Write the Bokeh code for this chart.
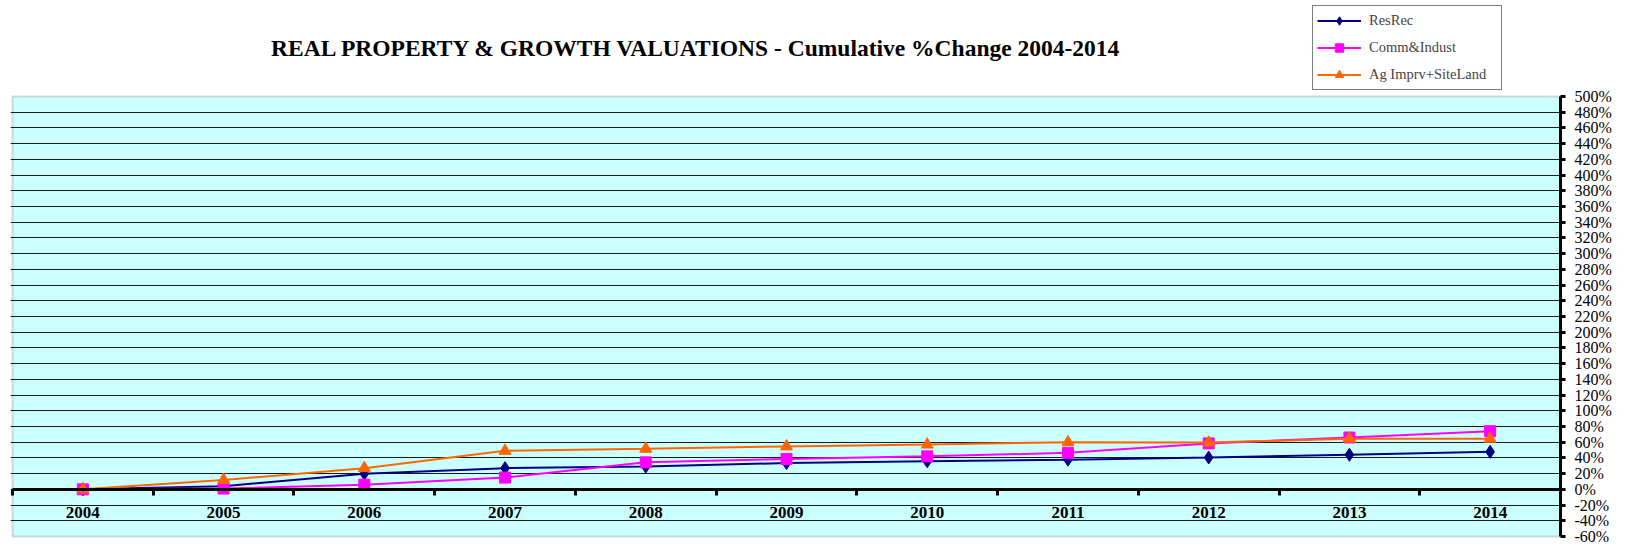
from bokeh.plotting import figure
from bokeh.models import (Range1d, LinearAxis, FixedTicker, PrintfTickFormatter,
                          Label, Legend, LegendItem, BoxAnnotation)
from bokeh.embed import file_html
from bokeh.resources import INLINE

# ---- data ----
years = [2004, 2005, 2006, 2007, 2008, 2009, 2010, 2011, 2012, 2013, 2014]
resrec = [0, 4, 20, 27, 29, 33.5, 35.7, 37.8, 40.5, 44, 47.8]
comm_indust = [0, 1, 6, 15, 34.4, 38.7, 42, 46.5, 58.5, 66, 74]
ag_imprv = [0, 12, 27, 49, 51.6, 54.6, 57, 60, 59.5, 64.5, 64.5]
y_ticks = list(range(-60, 501, 20))
series_names = ["ResRec", "Comm&Indust", "Ag Imprv+SiteLand"]
title_text = "REAL PROPERTY & GROWTH VALUATIONS - Cumulative %Change 2004-2014"

FONT = "Liberation Serif"

# ---- layout (pixels) ----
PLOT_W = 1548.0   # width of plot region
PLOT_H = 440.0    # height of plot region
HEADER_H = 96.0   # space above plot region (title + legend)
PAD = 2.0         # extra frame pixels left/below so the border is not clipped

x0, x1 = years[0] - 0.5, years[-1] + 0.5
y0, y1 = y_ticks[0], y_ticks[-1]
xu = (x1 - x0) / PLOT_W
yu = (y1 - y0) / PLOT_H

p = figure(width=1617, height=545, output_backend="svg", toolbar_location=None,
           x_range=Range1d(x0 - PAD * xu, x1),
           y_range=Range1d(y0 - PAD * yu, y1 + HEADER_H * yu),
           y_axis_location="right",
           min_border_left=10, min_border_right=57, min_border_top=0, min_border_bottom=7,
           background_fill_color="white", border_fill_color="white",
           outline_line_color=None)

# plot area background + border
bg = BoxAnnotation(left=x0, right=x1, bottom=y0, top=y1, fill_color="#CCFFFF", fill_alpha=1,
                   line_color="#808080", line_width=2, level="image")
p.add_layout(bg)

# grid
p.xgrid.visible = False
p.ygrid.ticker = FixedTicker(ticks=y_ticks[1:-1])
p.ygrid.grid_line_color = "#1a1a1a"
p.ygrid.grid_line_width = 1

# x label axis (at zero)
xa = p.xaxis[0]
xa.ticker = FixedTicker(ticks=years)
xa.fixed_location = 0
xa.axis_line_color = None
xa.major_tick_line_color = None
xa.minor_tick_line_color = None
xa.major_label_standoff = 12
xa.major_label_text_font = FONT
xa.major_label_text_font_style = "bold"
xa.major_label_text_font_size = "17px"
xa.major_label_text_color = "black"

# x boundary tick axis (at zero)
bx = LinearAxis(ticker=FixedTicker(ticks=[y - 0.5 for y in years]), fixed_location=0,
                bounds=(x0, x1),
                axis_line_width=3, axis_line_color="black",
                major_tick_out=6, major_tick_in=0, major_tick_line_width=3,
                major_tick_line_color="black",
                minor_tick_line_color=None, major_label_text_color=None)
p.add_layout(bx, "below")

# right y axis
ya = p.yaxis[0]
ya.ticker = FixedTicker(ticks=y_ticks)
ya.bounds = (y0, y1)
ya.formatter = PrintfTickFormatter(format="%d%%")
ya.axis_line_width = 3
ya.axis_line_color = "black"
ya.major_tick_out = 5
ya.major_tick_in = 0
ya.major_tick_line_width = 3
ya.minor_tick_line_color = None
ya.major_label_text_font = FONT
ya.major_label_text_font_size = "16px"
ya.major_label_text_color = "black"
ya.major_label_standoff = 9

# series
colors = ["#000080", "#FF00FF", "#FF6600"]
markers = ["diamond", "square", "triangle"]
sizes = [13, 11, 12]
values = [resrec, comm_indust, ag_imprv]
items = []
for name, vals, c, m, s in zip(series_names, values, colors, markers, sizes):
    r1 = p.line(years, vals, line_color=c, line_width=2)
    r2 = p.scatter(years, vals, marker=m, size=s, fill_color=c, line_color=c)
    items.append(LegendItem(label=name, renderers=[r1, r2]))

legend = Legend(items=items, location=(1302, 448),
                border_line_color="black", border_line_width=1,
                background_fill_color="white", background_fill_alpha=1,
                label_text_font=FONT, label_text_font_size="14.5px",
                glyph_width=44, glyph_height=21, label_height=21, label_width=128,
                spacing=6, padding=4, margin=0, label_standoff=8)
p.add_layout(legend)

title = Label(x=686, y=491, x_units="screen", y_units="screen", text=title_text,
              text_font=FONT, text_font_style="bold", text_font_size="23.5px",
              text_align="center", text_baseline="middle", text_color="black")
p.add_layout(title)

open("out.html", "w").write(file_html(p, INLINE))
